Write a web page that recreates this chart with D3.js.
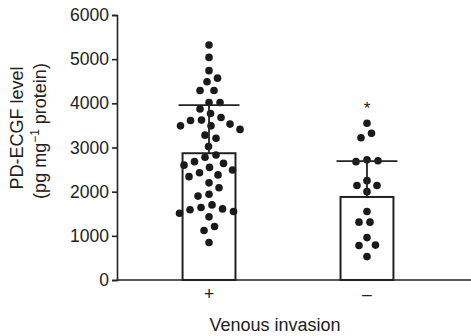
<!DOCTYPE html>
<html lang="en">
<head>
<meta charset="UTF-8">
<title>PD-ECGF level and venous invasion</title>
<style>
  body { margin: 0; background: #fff; }
  svg { display: block; font-family: 'Liberation Sans', Arial, sans-serif; }
  .axis text { fill: #222; font-size: 17.5px; }
  .axis path, .axis line { stroke: #222; stroke-width: 1.6; fill: none; }
  .label { fill: #222; }
</style>
<script src="https://cdnjs.cloudflare.com/ajax/libs/d3/7.8.5/d3.min.js"></script>
</head>
<body>
<svg id="chart" width="471" height="336"></svg>
<script>
// groups on the x axis
const categories = ["+", "\u2013"];
const yTicks = [0, 1000, 2000, 3000, 4000, 5000, 6000];

// bar height (mean) and top of the error bar
const means = [2870, 1880];
const sdTops = [3960, 2690];

// individual patients, pg/mg protein
const positiveValues = [5320, 5040, 4740, 4570, 4490, 4290, 4290, 4020, 4020, 3870,
  3770, 3680, 3610, 3620, 3530, 3490, 3490, 3410, 3280, 3210,
  3020, 2830, 2780, 2680, 2600, 2640, 2550, 2490, 2380, 2340,
  2430, 2200, 2090, 1940, 1900, 1590, 1550, 1640, 1700, 1610,
  1510, 1430, 1210, 1120, 850];
const negativeValues = [3550, 3320, 3220, 2720, 2680, 2700, 2250, 2140, 2140, 2000,
  1550, 1310, 1310, 960, 790, 780, 530];
const groups = [positiveValues, negativeValues];

const svg = d3.select("#chart");
const axisLeftX = 117, axisBottomY = 280;

const y = d3.scaleLinear().domain([0, 6000]).range([axisBottomY, 15]);
const x = d3.scaleBand().domain(categories)
  .range([axisLeftX, 459])
  .paddingInner(0.665)
  .paddingOuter(0.415);

const r = 3.8;
const gap = 11; // min centre distance used when spreading the dots

// simple beeswarm so dots that share a level sit side by side
function swarm(values) {
  const placed = [];
  return values.slice().sort((a, b) => b - a).map(v => {
    const cy = y(v);
    let dx = 0;
    for (let k = 0; k < 400; k++) {
      const cand = (k % 2 ? 1 : -1) * Math.ceil(k / 2) * 0.5;
      if (placed.every(p => Math.hypot(p.dx - cand, p.cy - cy) >= gap)) { dx = cand; break; }
    }
    placed.push({ dx, cy });
    return { v, dx, cy };
  });
}

// bars
svg.append("g").selectAll("rect")
  .data(categories)
  .join("rect")
  .attr("x", d => x(d))
  .attr("y", (d, i) => y(means[i]))
  .attr("width", x.bandwidth())
  .attr("height", (d, i) => y(0) - y(means[i]))
  .attr("fill", "#fff")
  .attr("stroke", "#222")
  .attr("stroke-width", 2);

// dots
categories.forEach((c, i) => {
  const cx = x(c) + x.bandwidth() / 2;
  svg.append("g").selectAll("circle")
    .data(swarm(groups[i]))
    .join("circle")
    .attr("cx", d => cx + d.dx)
    .attr("cy", d => d.cy)
    .attr("r", r)
    .attr("fill", "#1a1a1a");
});

// error bars (upper SD)
const err = svg.append("g").attr("stroke", "#222").attr("stroke-width", 1.8);
categories.forEach((c, i) => {
  const cx = x(c) + x.bandwidth() / 2;
  err.append("line")
    .attr("x1", cx).attr("x2", cx)
    .attr("y1", y(means[i])).attr("y2", y(sdTops[i]));
  err.append("line")
    .attr("x1", cx - x.bandwidth() / 2 - 4).attr("x2", cx + x.bandwidth() / 2 + 4)
    .attr("y1", y(sdTops[i])).attr("y2", y(sdTops[i]));
});

// significance mark above the negative group
svg.append("text")
  .attr("class", "label")
  .attr("x", x(categories[1]) + x.bandwidth() / 2)
  .attr("y", y(d3.max(negativeValues)) - 9)
  .attr("text-anchor", "middle")
  .style("font-size", "17px")
  .text("*");

// axes
svg.append("g")
  .attr("class", "axis")
  .attr("transform", `translate(${axisLeftX},0)`)
  .call(d3.axisLeft(y).tickValues(yTicks).tickFormat(d3.format("d")).tickSize(5).tickPadding(3));

const xAxis = svg.append("g")
  .attr("class", "axis")
  .attr("transform", `translate(0,${axisBottomY})`)
  .call(d3.axisBottom(x).tickSize(0).tickPadding(8));
xAxis.select(".domain").remove();
xAxis.append("line")
  .attr("x1", axisLeftX).attr("x2", 471)
  .attr("stroke-width", 2);

// axis titles
svg.append("text")
  .attr("class", "label")
  .attr("x", 275)
  .attr("y", 331)
  .attr("text-anchor", "middle")
  .style("font-size", "18px")
  .text("Venous invasion");

svg.append("text")
  .attr("class", "label")
  .attr("transform", "rotate(-90)")
  .attr("x", -128)
  .attr("y", 23)
  .attr("text-anchor", "middle")
  .style("font-size", "18px")
  .text("PD-ECGF level");

const unit = svg.append("text")
  .attr("class", "label")
  .attr("transform", "rotate(-90)")
  .attr("x", -131)
  .attr("y", 46)
  .attr("text-anchor", "middle")
  .style("font-size", "18px");
unit.append("tspan").text("(pg mg");
unit.append("tspan").attr("dy", -7).style("font-size", "12px").text("\u22121");
unit.append("tspan").attr("dy", 7).text(" protein)");
</script>
</body>
</html>
